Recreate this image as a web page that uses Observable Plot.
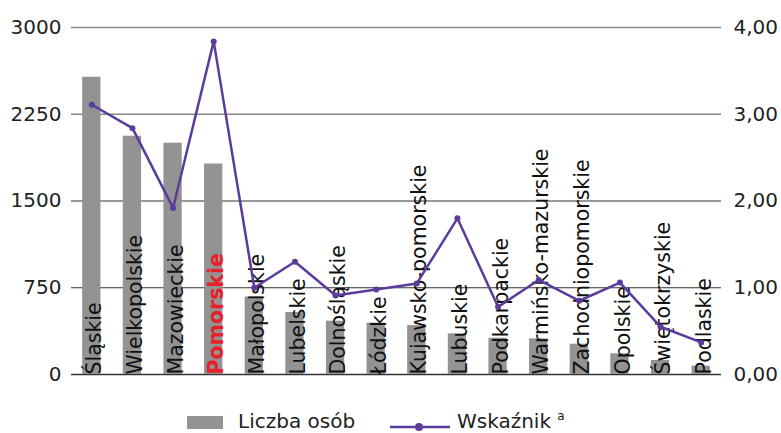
<!DOCTYPE html>
<html><head><meta charset="utf-8">
<script src="https://cdn.jsdelivr.net/npm/d3@7"></script>
<script src="https://cdn.jsdelivr.net/npm/@observablehq/plot@0.6"></script>
<style>
body{margin:0;background:#fff;font-family:"DejaVu Sans",sans-serif;overflow:hidden;}
#legend{position:relative;height:43px;width:781px;font-size:20px;color:#222;}
</style></head><body>
<div id="chart"></div>
<div id="legend"></div>
<script>
const regions = ["Śląskie","Wielkopolskie","Mazowieckie","Pomorskie","Małopolskie","Lubelskie","Dolnośląskie","Łódzkie","Kujawsko-pomorskie","Lubuskie","Podkarpackie","Warmińsko-mazurskie","Zachodniopomorskie","Opolskie","Świętokrzyskie","Podlaskie"];
const liczbaOsob = [2570,2060,2000,1820,670,536,461,444,423,352,314,308,262,179,121,72];
const wskaznik = [3.11,2.84,1.92,3.84,1.00,1.30,0.91,0.98,1.05,1.80,0.78,1.09,0.85,1.06,0.55,0.37];
const leftTicks = [0,750,1500,2250,3000];
const rightTicks = [0,1,2,3,4];
const highlight = "Pomorskie";
const ratio = 3000/4;

const data = regions.map((r,i)=>({r, n: liczbaOsob[i], w: wskaznik[i]*ratio}));
const gridColor = v => (v===2250||v===3000) ? "#8a8a8a" : "#333";
const purple = "#5b3b9c";
const labelOpts = {x: "r", y: 0, text: "r", rotate: -90, textAnchor: "start", lineAnchor: "middle", dx: 3, fontSize: 20.5};

const chart = Plot.plot({
  width: 781, height: 390,
  marginLeft: 71, marginRight: 60, marginTop: 27, marginBottom: 16,
  style: {fontFamily: "DejaVu Sans, sans-serif", background: "#fff"},
  x: {domain: regions, paddingInner: 0.55, paddingOuter: 0.275, round: false, axis: null},
  y: {domain: [0,3000], axis: null},
  marks: [
    Plot.ruleY(leftTicks, {stroke: gridColor, strokeWidth: v => v===0 ? 1.6 : (v>=2250?1.5:1)}),
    Plot.barY(data, {x: "r", y: "n", fill: "#939393"}),
    Plot.axisY(leftTicks, {anchor: "left", ticks: leftTicks, tickSize: 0, tickPadding: 10, fontSize: 20, fill: "#222", tickFormat: d => String(d)}),
    Plot.axisY(rightTicks.map(d=>d*ratio), {anchor: "right", tickSize: 0, tickPadding: 12, fontSize: 20, fill: "#222", tickFormat: d => (d/ratio).toFixed(2).replace(".", ",")}),
    Plot.text(data.filter(d => d.r !== highlight), {...labelOpts, fill: "#111"}),
    Plot.text(data.filter(d => d.r === highlight), {...labelOpts, fill: "#e8202a", fontWeight: "bold"}),
    Plot.line(data, {x: "r", y: "w", stroke: purple, strokeWidth: 2.5}),
    Plot.dot(data, {x: "r", y: "w", fill: purple, r: 3})
  ]
});
document.getElementById("chart").appendChild(chart);

const lg = document.getElementById("legend");
lg.innerHTML = `
<div style="position:absolute;left:187px;top:26px;width:36px;height:13px;background:#939393"></div>
<div style="position:absolute;left:238px;top:19px;white-space:nowrap">Liczba osób</div>
<svg style="position:absolute;left:388px;top:27px" width="66" height="20"><line x1="2" y1="10" x2="62" y2="10" stroke="${purple}" stroke-width="2.5"/><circle cx="31" cy="10" r="4" fill="${purple}"/></svg>
<div style="position:absolute;left:457px;top:19px;white-space:nowrap">Wskaźnik <sup style="font-size:12px">a</sup></div>`;
</script>
</body></html>
